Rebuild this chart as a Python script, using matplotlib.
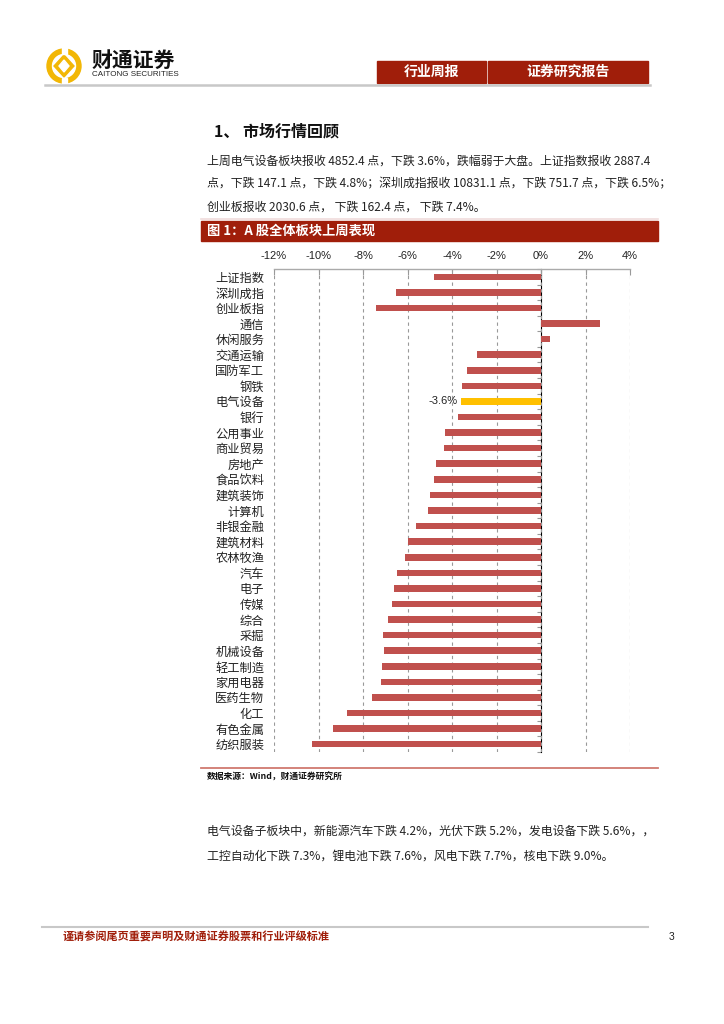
import matplotlib
matplotlib.use("Agg")
import matplotlib.pyplot as plt
from matplotlib.patches import Rectangle, Circle, Polygon
import numpy as np

plt.rcParams['font.family'] = ['Noto Sans CJK SC', 'DejaVu Sans']

# ---------------- data ----------------
categories = ["上证指数", "深圳成指", "创业板指", "通信", "休闲服务", "交通运输", "国防军工",
              "钢铁", "电气设备", "银行", "公用事业", "商业贸易", "房地产", "食品饮料",
              "建筑装饰", "计算机", "非银金融", "建筑材料", "农林牧渔", "汽车", "电子",
              "传媒", "综合", "采掘", "机械设备", "轻工制造", "家用电器", "医药生物",
              "化工", "有色金属", "纺织服装"]
values = [-4.8, -6.5, -7.4, 2.64, 0.39, -2.88, -3.33, -3.54, -3.6, -3.71, -4.31, -4.37,
          -4.73, -4.80, -4.98, -5.10, -5.63, -6.00, -6.12, -6.45, -6.59, -6.71, -6.86,
          -7.08, -7.07, -7.16, -7.20, -7.58, -8.72, -9.33, -10.31]
highlight = "电气设备"
highlight_label = "-3.6%"
x_ticks = [-12, -10, -8, -6, -4, -2, 0, 2, 4]
x_ticklabels = ["-12%", "-10%", "-8%", "-6%", "-4%", "-2%", "0%", "2%", "4%"]

title_text = "图 1：A 股全体板块上周表现"
source_text = "数据来源：Wind，财通证券研究所"
section_title = "1、 市场行情回顾"
para1 = ["上周电气设备板块报收 4852.4 点，下跌 3.6%，跌幅弱于大盘。上证指数报收 2887.4",
         "点，下跌 147.1 点，下跌 4.8%；深圳成指报收 10831.1 点，下跌 751.7 点，下跌 6.5%；",
         "创业板报收 2030.6 点， 下跌 162.4 点， 下跌 7.4%。"]
para2 = ["电气设备子板块中，新能源汽车下跌 4.2%，光伏下跌 5.2%，发电设备下跌 5.6%，，",
         "工控自动化下跌 7.3%，锂电池下跌 7.6%，风电下跌 7.7%，核电下跌 9.0%。"]
footer_text = "谨请参阅尾页重要声明及财通证券股票和行业评级标准"
page_no = "3"

BAR = "#C0504D"
HI = "#FFC000"
DARKRED = "#A01E0A"

W, H = 724, 1024
fig = plt.figure(figsize=(W / 100, H / 100), dpi=100)

# ---------------- page decoration layer (pixel coords) ----------------
deco = fig.add_axes([0, 0, 1, 1], zorder=0)
deco.set_xlim(0, W)
deco.set_ylim(H, 0)
deco.axis("off")

# logo
gold = "#F2B705"
deco.add_patch(Circle((64, 66), 17, color=gold))
deco.add_patch(Circle((64, 66), 11.5, color="white"))
deco.add_patch(Polygon([(64, 55), (74, 66), (64, 77), (54, 66)], closed=True, color=gold))
deco.add_patch(Polygon([(64, 60), (69, 66), (64, 72), (59, 66)], closed=True, color="white"))
deco.add_patch(Rectangle((61.5, 47), 5, 7, color="white"))
deco.add_patch(Rectangle((61.5, 78), 5, 7, color="white"))
deco.text(91, 60, "财通证券", fontsize=15, fontweight="bold", va="center", ha="left", color="#111111")
deco.text(92, 74, "CAITONG SECURITIES", fontsize=5.8, va="center", ha="left", color="#222222",
          family=["Liberation Sans"])

# header boxes
deco.add_patch(Rectangle((377, 61), 109, 22, color=DARKRED))
deco.add_patch(Rectangle((488, 61), 160, 22, color=DARKRED))
deco.text(431.5, 72, "行业周报", fontsize=10, fontweight="bold", color="white", ha="center", va="center")
deco.text(568, 72, "证券研究报告", fontsize=10, fontweight="bold", color="white", ha="center", va="center")
deco.plot([45, 650], [85, 85], color="#C8C8C8", lw=1.8)

# section title & paragraph
deco.text(214, 131, section_title, fontsize=11.5, fontweight="bold", ha="left", va="center", color="#111111")
for i, line in enumerate(para1):
    deco.text(207, 161 + 23 * i, line, fontsize=8.6, ha="left", va="center", color="#222222")
deco.plot([201, 658], [219, 219], color="#F0DCDC", lw=1.2)

# figure title bar
deco.add_patch(Rectangle((201, 221), 457, 20, color=DARKRED))
deco.text(207, 231, title_text, fontsize=9.5, fontweight="bold", color="white", ha="left", va="center")

# source
deco.plot([201, 658], [768, 768], color="#D07A70", lw=1.3)
deco.text(207, 777, source_text, fontsize=6.3, fontweight="bold", ha="left", va="center", color="#111111")

for i, line in enumerate(para2):
    deco.text(207, 831 + 25 * i, line, fontsize=8.6, ha="left", va="center", color="#222222")

# footer
deco.plot([42, 648], [927, 927], color="#C8C8C8", lw=1.5)
deco.text(63, 937, footer_text, fontsize=8.0, fontweight="bold", color=DARKRED, ha="left", va="center")
deco.text(672, 937, page_no, fontsize=7.5, color="#222222", ha="center", va="center",
          family=["Liberation Sans"])

# ---------------- chart ----------------
ax = fig.add_axes([274 / W, 1 - 752 / H, (630 - 274) / W, (752 - 269) / H], zorder=1)
ax.patch.set_alpha(0)
y = np.arange(len(categories))
colors = [HI if c == highlight else BAR for c in categories]
ax.barh(y, values, height=0.42, color=colors, zorder=3)

xmin, xmax = x_ticks[0], x_ticks[-1]
ax.set_xlim(xmin, xmax)
ax.set_ylim(len(categories) - 0.5, -0.5)

ax.xaxis.tick_top()
ax.set_xticks(x_ticks)
ax.set_xticklabels(x_ticklabels, family=["Liberation Sans"], fontsize=8, color="#222222")
ax.tick_params(axis="x", direction="in", length=4, color="#999999", pad=6)
ax.set_yticks(y)
ax.set_yticklabels(categories, fontsize=8.8, color="#222222")
ax.tick_params(axis="y", length=0, pad=7)

ax.grid(axis="x", color="#999999", lw=0.8, linestyle=(0, (3, 3)), zorder=0)
for s in ["left", "right", "bottom"]:
    ax.spines[s].set_visible(False)
ax.spines["top"].set_color("#AAAAAA")
ax.spines["top"].set_linewidth(1.0)

# zero axis with small ticks at category boundaries (pointing left)
zero_loc = (0 - xmin) / (xmax - xmin)
sec = ax.secondary_yaxis(zero_loc)
sec.set_yticks(np.arange(len(categories) + 1) - 0.5)
sec.set_yticklabels([])
sec.tick_params(axis="y", direction="in", length=3, color="#999999")
sec.spines["left"].set_color("#AAAAAA")
sec.spines["left"].set_linewidth(1.3)

# highlight label
hi_idx = categories.index(highlight)
ax.text(values[hi_idx] - 0.15, hi_idx, highlight_label, ha="right", va="center",
        fontsize=8, family=["Liberation Sans"], color="#222222", zorder=4)

fig.savefig("out.png", dpi=100)
